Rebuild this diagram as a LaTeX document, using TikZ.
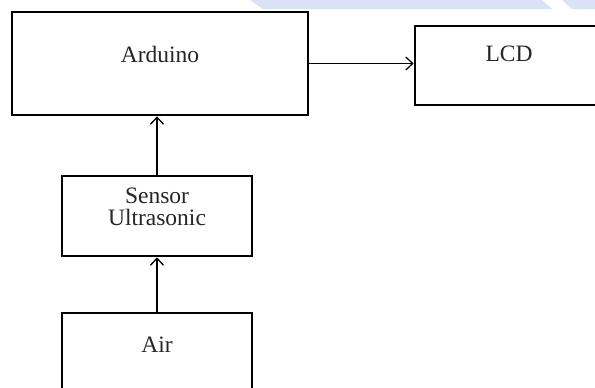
\documentclass[tikz,border=0pt]{standalone}
\usepackage{fontspec}
\setmainfont{Liberation Serif}
\usetikzlibrary{arrows.meta}
\definecolor{bandblue}{HTML}{DAE3F3}
\begin{document}
\begin{tikzpicture}[x=1pt,y=-1pt,
  blockbox/.style={draw=black, line width=2.6pt, fill=white, inner sep=0pt},
  lbl/.style={font=\fontsize{23.5}{22}\selectfont, text=black!85, align=center},
  conn/.style={line width=1.3pt, -{Straight Barb[length=7pt,width=13pt,line width=1.3pt]}}]
\useasboundingbox (0,0) rectangle (595,388);
\clip (0,0) rectangle (595,388);
% light band at top
\fill[bandblue] (250,0) -- (542,0) -- (552,9) -- (263,9) -- cycle;
\fill[bandblue] (562,0) -- (595,0) -- (595,9) -- (572,9) -- cycle;
% boxes
\node[blockbox, minimum width=296pt, minimum height=103pt,
  label={[lbl, anchor=center, yshift=9pt]center:Arduino}] (arduino) at (160,63.5) {};
\node[blockbox, minimum width=188pt, minimum height=79pt,
  label={[lbl, anchor=center, yshift=11.5pt]center:LCD}] (lcd) at (509,65.5) {};
\node[blockbox, minimum width=190pt, minimum height=80pt,
  label={[lbl, anchor=center, yshift=9.5pt]center:Sensor\\Ultrasonic}] (sensor) at (157,216) {};
\node[blockbox, minimum width=190pt, minimum height=83pt,
  label={[lbl, anchor=center, yshift=9.5pt]center:Air}] (air) at (157,354.5) {};
% connectors
\draw[conn] (arduino.east) -- (lcd.west |- arduino.east);
\draw[conn] (sensor.north) -- (arduino.south -| sensor.north);
\draw[conn] (air.north) -- (sensor.south);
\end{tikzpicture}
\end{document}
